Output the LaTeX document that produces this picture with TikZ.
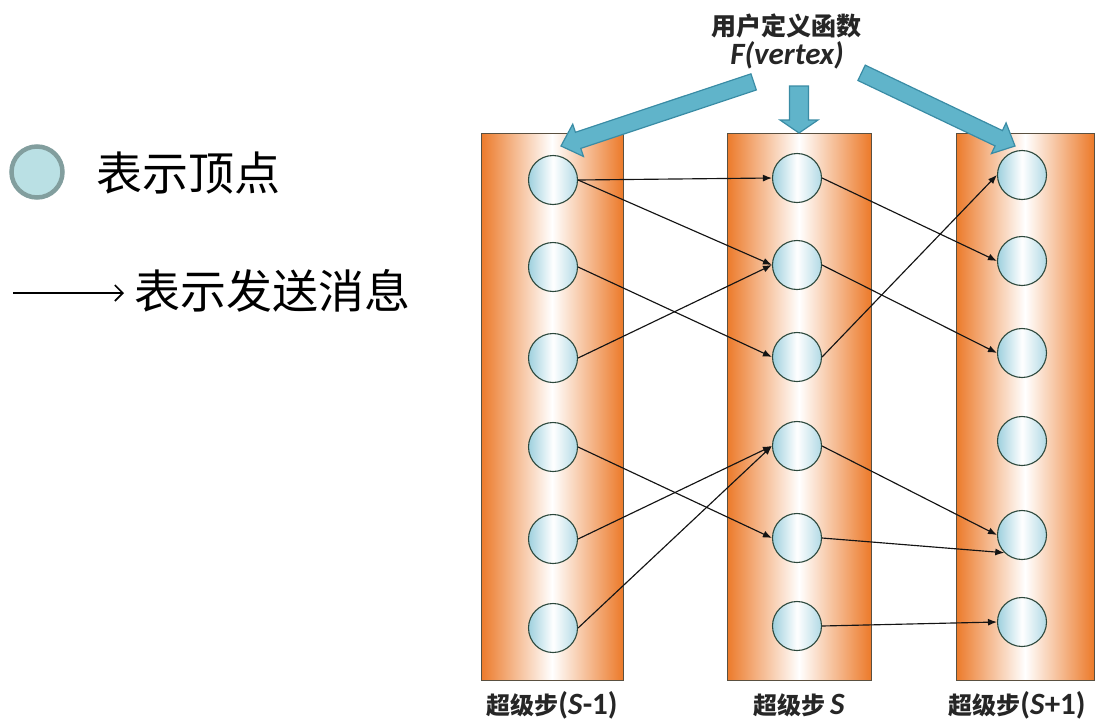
\documentclass[tikz,border=0pt]{standalone}
\usepackage{fontspec}
\newfontfamily\cjk{Noto Sans CJK SC}
\newfontfamily\carl{Carlito}
\usetikzlibrary{arrows.meta}
\definecolor{orng}{RGB}{236,122,42}
\definecolor{colframe}{RGB}{90,80,64}
\definecolor{vblue}{RGB}{158,208,222}
\definecolor{vedge}{RGB}{45,72,60}
\definecolor{bfill}{RGB}{96,180,202}
\definecolor{bedge}{RGB}{58,140,165}
\definecolor{legfill}{RGB}{186,224,228}
\definecolor{legedge}{RGB}{130,158,158}
% tip x, tip y, angle, length, shaft half width, head half width, head length
\newcommand{\bigarrow}[7]{%
  \begin{scope}[shift={(#1,#2)}, rotate=#3]
    \draw[barrow] (0,0) -- (-#7,-#6) -- (-#7,-#5) -- (-#4,-#5) -- (-#4,#5) -- (-#7,#5) -- (-#7,#6) -- cycle;
  \end{scope}}
\begin{document}
\begin{tikzpicture}[x=1pt,y=-1pt,
  column/.style={draw=colframe, line width=1pt, left color=orng, right color=orng, middle color=white},
  vertex/.style={circle, draw=vedge, line width=1.1pt, minimum size=49pt, inner sep=0pt,
                 left color=vblue, right color=vblue!80, middle color=white},
  msg/.style={draw=black!92, line width=1.15pt, -{Latex[length=9pt,width=7pt]}},
  barrow/.style={draw=bedge, fill=bfill, line width=1.2pt},
  bottomlabel/.style={font=\fontsize{24}{28}\selectfont\bfseries, text=black!85, inner sep=0pt},
  legendtext/.style={font=\cjk\fontsize{46}{50}\selectfont, anchor=west, inner sep=0pt}]
\useasboundingbox (0,0) rectangle (1095,723);

% columns
\draw[column] (481,133) rectangle (623,680);
\draw[column] (727,133) rectangle (871,680);
\draw[column] (956,133) rectangle (1094,680);

% big blue arrows
\bigarrow{561}{146}{198.4}{203}{8.5}{17}{18}
\bigarrow{799}{133}{270}{47}{9.5}{19}{13}
\bigarrow{1015}{146}{-25.5}{170}{8.5}{17}{18}

% title
\node[font=\cjk\bfseries\fontsize{25}{28}\selectfont, text=black!85, inner sep=0pt] (title) at (786,26) {用户定义函数};
\node[font=\carl\bfseries\itshape\fontsize{31}{32}\selectfont, text=black!85, inner sep=0pt] (func) at (787,55) {F(vertex)};

% vertices
\node[vertex] (a1) at (553,180) {};
\node[vertex] (a2) at (553,267) {};
\node[vertex] (a3) at (553,358) {};
\node[vertex] (a4) at (553,447) {};
\node[vertex] (a5) at (553,539) {};
\node[vertex] (a6) at (553,628) {};
\node[vertex] (b1) at (797,178) {};
\node[vertex] (b2) at (797,265) {};
\node[vertex] (b3) at (797,357) {};
\node[vertex] (b4) at (797,446) {};
\node[vertex] (b5) at (797,538) {};
\node[vertex] (b6) at (797,626) {};
\node[vertex] (c1) at (1022,175) {};
\node[vertex] (c2) at (1022,261) {};
\node[vertex] (c3) at (1022,353) {};
\node[vertex] (c4) at (1022,441) {};
\node[vertex] (c5) at (1022,535) {};
\node[vertex] (c6) at (1022,622) {};

% messages
\draw[msg] (a1.east) -- (b1.west);
\draw[msg] (a1.east) -- (b2.west);
\draw[msg] (a2.east) -- (b3.west);
\draw[msg] (a3.east) -- (b2.west);
\draw[msg] (a4.east) -- (b5.west);
\draw[msg] (a5.east) -- (b4.west);
\draw[msg] (a6.east) -- (b4.west);
\draw[msg] (b1.east) -- (c2.west);
\draw[msg] (b2.east) -- (c3.west);
\draw[msg] (b3.east) -- (c1.west);
\draw[msg] (b4.east) -- (c5.west);
\draw[msg] (b5.east) -- (c5.south west);
\draw[msg] (b6.east) -- (c6.west);

% bottom labels
\node[bottomlabel] (l1) at (552,705) {{\cjk 超级步}{\carl\fontsize{31}{32}\selectfont (\textit{S}-1)}};
\node[bottomlabel] (l2) at (799,705) {{\cjk 超级步}{\carl\fontsize{31}{32}\selectfont\,\textit{S}}};
\node[bottomlabel] (l3) at (1017,705) {{\cjk 超级步}{\carl\fontsize{31}{32}\selectfont (\textit{S}+1)}};

% legend
\node[circle, draw=legedge, line width=4.5pt, fill=legfill, minimum size=51pt, inner sep=0pt] (legv) at (37,172) {};
\node[legendtext] (legvt) at (96,173) {表示顶点};
\coordinate (la) at (13,293);
\coordinate (lb) at (124,293);
\draw[line width=1.6pt, -{Straight Barb[length=8pt,width=16pt,line width=1.6pt]}] (la) -- (lb);
\node[legendtext] (legmt) at (134,291) {表示发送消息};
\end{tikzpicture}
\end{document}
